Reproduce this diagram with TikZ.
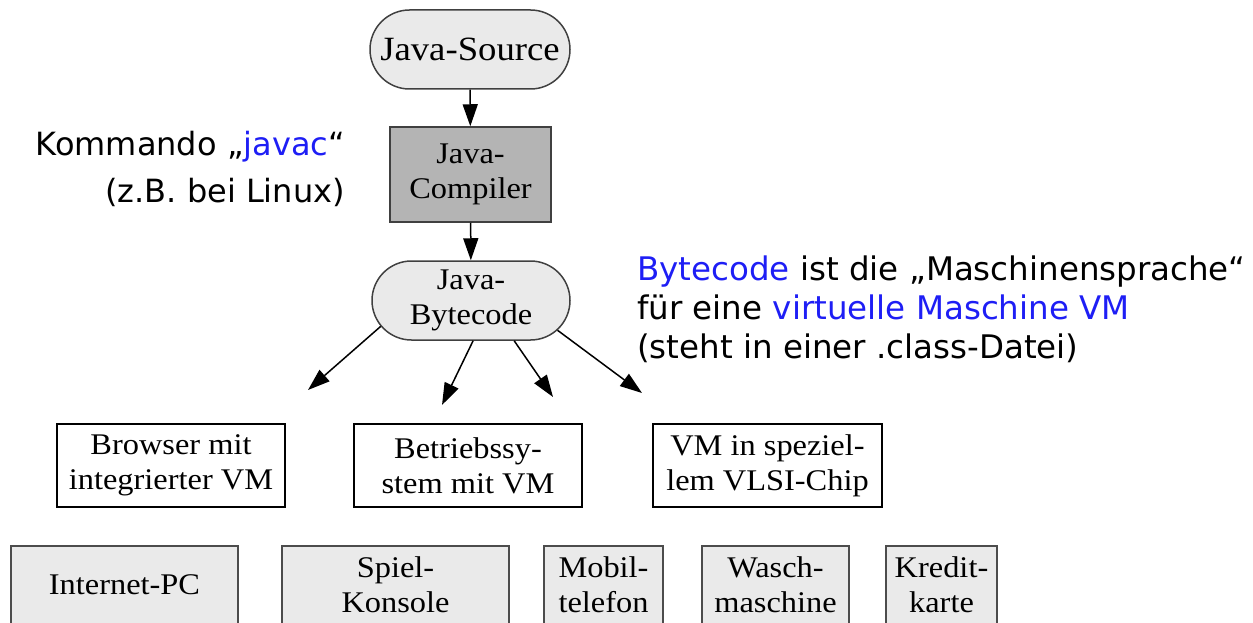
\documentclass[tikz,border=0pt]{standalone}
\usepackage{fontspec}
\setmainfont{Liberation Serif}[FakeStretch=1.08]
\newfontfamily\notefont{DejaVu Sans}
\usepackage{xcolor}
\usetikzlibrary{arrows.meta,positioning,shapes.misc}
\definecolor{noteblue}{RGB}{30,30,245}
\definecolor{lightgr}{RGB}{234,234,234}
\definecolor{compgr}{RGB}{180,180,180}
\begin{document}
\begin{tikzpicture}[x=1pt,y=-1pt,>={Triangle[length=22pt,width=15pt]},
  every node/.style={font=\fontsize{30}{35}\selectfont,align=center,inner sep=0pt},
  rbox/.style={draw=black!75,rounded rectangle,fill=lightgr,line width=1.5pt,minimum height=79pt},
  vmbox/.style={draw,fill=white,line width=1.5pt,minimum width=228pt,minimum height=83pt},
  devbox/.style={draw=black!70,fill=lightgr,line width=1.5pt,minimum height=78pt},
  note/.style={font=\notefont\fontsize{32.5}{39}\selectfont}]
\useasboundingbox (0,0) rectangle (1253,623);
\node[rbox,minimum width=200pt,font=\fontsize{34}{38}\selectfont] (src) at (470,49.5) {Java-Source};
\node[draw=black!75,fill=compgr,line width=1.5pt,minimum width=161pt,minimum height=95pt] (comp) at (470.5,174.5) {Java-\\Compiler};
\node[rbox,minimum width=198pt] (byte) at (471,300.5) {Java-\\Bytecode};
\draw[->,line width=1.5pt] (src) -- (comp);
\draw[->,line width=1.5pt] (comp) -- (byte);
% free ends of the fan
\coordinate (t1) at (308,390);
\coordinate (t2) at (442,405);
\coordinate (t3) at (553,397);
\coordinate (t4) at (642,393);
\draw[->,line width=1.5pt] (byte.196) -- (t1);
\draw[->,line width=1.5pt] (byte.273) -- (t2);
\draw[->,line width=1.5pt] (byte.317) -- (t3);
\draw[->,line width=1.5pt] (byte.341) -- (t4);
\node[vmbox] (browser) at (171,465.5) {Browser mit\\integrierter VM};
\node[vmbox] (ossys) at (468,465.5) {Betriebssy-\\stem mit VM};
\node[vmbox,minimum width=229pt] (vlsi) at (767.5,465.5) {VM in speziel-\\lem VLSI-Chip};
\node[devbox,minimum width=227pt] (pc) at (124.5,585) {Internet-PC};
\node[devbox,minimum width=227pt] (konsole) at (395.5,585) {Spiel-\\Konsole};
\node[devbox,minimum width=119pt] (mobil) at (603.5,585) {Mobil-\\telefon};
\node[devbox,minimum width=147pt] (wasch) at (775.5,585) {Wasch-\\maschine};
\node[devbox,minimum width=111pt] (kredit) at (941.5,585) {Kredit-\\karte};
\node[note,align=right,font=\notefont\fontsize{32}{47}\selectfont,anchor=base east] (javacnote) at (345,202)
  {Kommando „\textcolor{noteblue}{javac}“\\(z.B. bei Linux)};
\node[note,align=left,anchor=base west] (bcnote) at (637,358)
  {\textcolor{noteblue}{Bytecode} ist die „Maschinensprache“\\für eine \textcolor{noteblue}{virtuelle Maschine VM}\\(steht in einer .class-Datei)};
\end{tikzpicture}
\end{document}
